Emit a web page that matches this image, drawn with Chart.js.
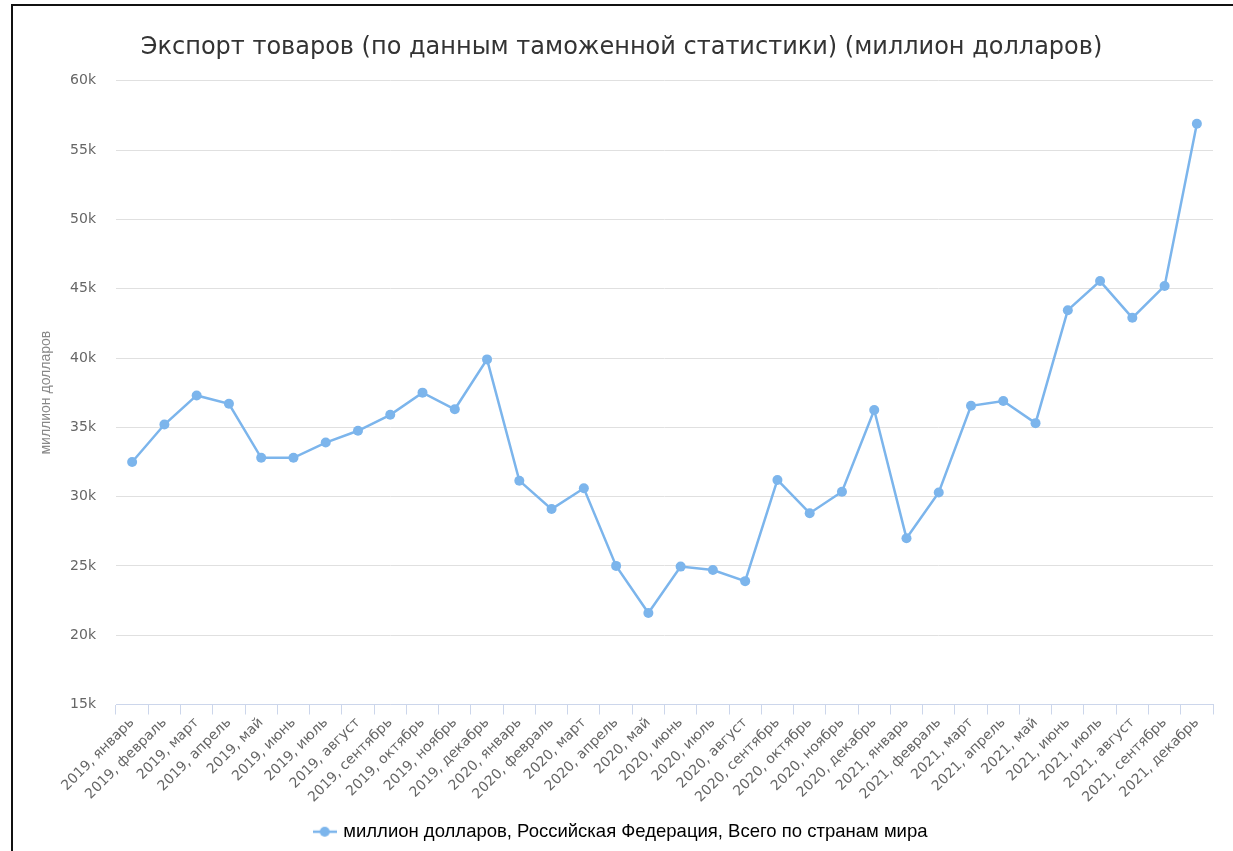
<!DOCTYPE html>
<html lang="ru">
<head>
<meta charset="utf-8">
<title>Экспорт товаров</title>
<script src="https://cdn.jsdelivr.net/npm/chart.js@4.4.1/dist/chart.umd.min.js"></script>
<style>
    html, body { margin: 0; padding: 0; background: #fff; overflow: hidden; }
    #wrap { position: relative; width: 1233px; height: 851px; }
    #frame { position: absolute; left: 11px; top: 4px; width: 1300px; height: 900px; border: 2px solid #111; box-sizing: border-box; pointer-events: none; }
    canvas { position: absolute; left: 0; top: 0; }
</style>
</head>
<body>
<div id="wrap">
    <canvas id="chart" width="1233" height="851"></canvas>
    <div id="frame"></div>
</div>
<script>
// Підписи місяців (категорії осі X)
const months = [
    '2019, январь', '2019, февраль', '2019, март', '2019, апрель', '2019, май', '2019, июнь',
    '2019, июль', '2019, август', '2019, сентябрь', '2019, октябрь', '2019, ноябрь', '2019, декабрь',
    '2020, январь', '2020, февраль', '2020, март', '2020, апрель', '2020, май', '2020, июнь',
    '2020, июль', '2020, август', '2020, сентябрь', '2020, октябрь', '2020, ноябрь', '2020, декабрь',
    '2021, январь', '2021, февраль', '2021, март', '2021, апрель', '2021, май', '2021, июнь',
    '2021, июль', '2021, август', '2021, сентябрь', '2021, декабрь'
];

// Експорт, млн доларів
const exportValues = [
    32500, 35200, 37300, 36700, 32800, 32800, 33900, 34750, 35900, 37500, 36300, 39900,
    31150, 29100, 30600, 25000, 21600, 24950, 24700, 23900, 31200, 28800, 30350, 36250,
    27000, 30300, 36550, 36900, 35300, 43450, 45550, 42900, 45200, 56900
];

const yTicks = [15000, 20000, 25000, 30000, 35000, 40000, 45000, 50000, 55000, 60000];

const seriesName = 'миллион долларов, Российская Федерация, Всего по странам мира';
const lineColor = '#7cb5ec';

// Маркер легенди: лінія з точкою
function legendMarker() {
    const c = document.createElement('canvas');
    c.width = 24;
    c.height = 12;
    const ctx = c.getContext('2d');
    ctx.strokeStyle = lineColor;
    ctx.lineWidth = 2.5;
    ctx.beginPath();
    ctx.moveTo(0, 6);
    ctx.lineTo(24, 6);
    ctx.stroke();
    ctx.fillStyle = lineColor;
    ctx.beginPath();
    ctx.arc(12, 6, 5, 0, Math.PI * 2);
    ctx.fill();
    return c;
}

const marker = legendMarker();

new Chart(document.getElementById('chart'), {
    type: 'line',
    data: {
        labels: months,
        datasets: [{
            label: seriesName,
            data: exportValues,
            borderColor: lineColor,
            backgroundColor: lineColor,
            borderWidth: 2.5,
            tension: 0,
            pointRadius: 5,
            pointHoverRadius: 5,
            pointBackgroundColor: lineColor,
            pointBorderWidth: 0,
            fill: false,
        }]
    },
    options: {
        responsive: false,
        animation: false,
        devicePixelRatio: 1,
        layout: {padding: {left: 30, right: 20, top: 0, bottom: 0}},
        plugins: {
            title: {
                display: true,
                text: 'Экспорт товаров (по данным таможенной статистики) (миллион долларов)',
                color: '#333333',
                font: {family: 'DejaVu Sans', size: 24, weight: 'normal'},
                padding: {top: 33, bottom: 19}
            },
            legend: {
                position: 'bottom',
                labels: {
                    color: '#333333',
                    font: {family: 'Liberation Sans', size: 18.5},
                    padding: 8,
                    usePointStyle: true,
                    generateLabels: chart => [{
                        text: seriesName,
                        pointStyle: marker,
                        fillStyle: lineColor,
                        strokeStyle: lineColor,
                        lineWidth: 0,
                        hidden: false,
                        datasetIndex: 0
                    }]
                }
            },
            tooltip: {enabled: false}
        },
        scales: {
            x: {
                offset: true,
                afterFit: scale => { scale.height = 110; },
                grid: {
                    offset: true,
                    drawOnChartArea: false,
                    drawTicks: true,
                    tickLength: 10,
                    color: '#ccd6eb'
                },
                border: {color: '#ccd6eb', width: 1},
                ticks: {
                    autoSkip: false,
                    maxRotation: 45,
                    minRotation: 45,
                    color: '#666666',
                    padding: 0,
                    font: {family: 'DejaVu Sans', size: 14}
                }
            },
            y: {
                min: 15000,
                max: 60000,
                afterFit: scale => { scale.width = 86; },
                afterBuildTicks: scale => { scale.ticks = yTicks.map(v => ({value: v})); },
                grid: {color: '#e0e0e0', drawTicks: false},
                border: {display: false},
                ticks: {
                    padding: 20,
                    color: '#666666',
                    font: {family: 'DejaVu Sans', size: 14},
                    callback: v => (v / 1000) + 'k'
                },
                title: {
                    display: true,
                    text: 'миллион долларов',
                    color: '#888888',
                    font: {family: 'Liberation Sans', size: 14},
                    padding: {top: 8, bottom: 0}
                }
            }
        }
    }
});
</script>
</body>
</html>
